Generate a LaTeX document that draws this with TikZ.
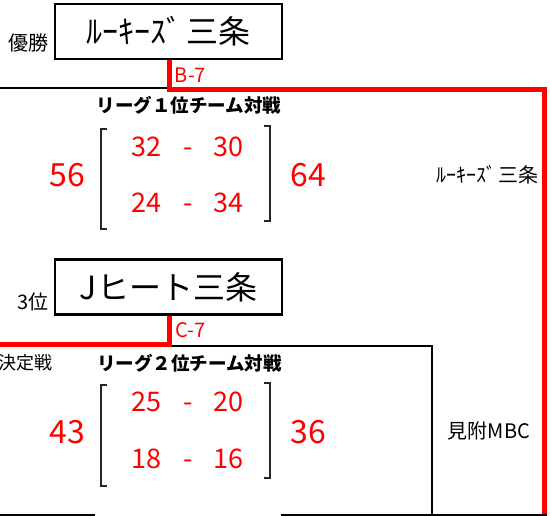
\documentclass[tikz,border=0pt]{standalone}
\usepackage{fontspec}
\setmainfont{Noto Sans CJK JP}
\begin{document}
\begin{tikzpicture}[x=1pt,y=-1pt,
  team/.style={draw=black,line width=2.5pt,minimum width=227pt,minimum height=55pt,inner sep=0pt,font=\fontsize{32}{32}\selectfont},
  lbl/.style={inner sep=0pt,font=\fontsize{20}{20}\selectfont},
  code/.style={inner sep=0pt,text=red,font=\fontsize{20}{20}\selectfont},
  head/.style={inner sep=0pt,font=\fontsize{18.5}{18.5}\selectfont\bfseries},
  big/.style={inner sep=0pt,text=red,font=\fontsize{32}{32}\selectfont},
  sc/.style={inner sep=0pt,text=red,font=\fontsize{27}{27}\selectfont},
  redline/.style={draw=red,line width=5pt,line join=miter},
  blk/.style={draw=black,line width=2pt},
  brk/.style={draw=black!85,line width=1.5pt}]
\useasboundingbox (0,0) rectangle (550,516);
% boxes
\node[team] (win) at (168.5,31.5) {ﾙｰｷｰｽﾞ\hspace{4pt}三条};
\node[team] (third) at (168.5,287) {Jヒート三条};
\node[lbl] (yusho) at (28.5,43) {優勝};
\node[lbl] (sani) at (33,302) {3位};
% lines
\coordinate (rtop) at (544.5,89.5);
\coordinate (rbot) at (544.5,516);
\coordinate (l1) at (0,88.5);
\coordinate (l1e) at (167,88.5);
\draw[blk] (l1) -- (l1e);
\draw[redline] ([xshift=1pt]win.south) |- (rtop) -- (rbot);
\coordinate (r2) at (0,344.5);
\draw[redline] ([xshift=1pt]third.south) |- (r2);
\coordinate (b2s) at (172,346);
\coordinate (b2c) at (432,346);
\coordinate (b2e) at (432,515);
\draw[blk] (b2s) -- (b2c) -- (b2e);
\coordinate (bl1) at (0,515);
\coordinate (bl2) at (95,515);
\coordinate (bl3) at (281,515);
\coordinate (bl4) at (547,515);
\draw[blk] (bl1) -- (bl2);
\draw[blk] (bl3) -- (bl4);
% codes
\node[code] (b7) at (190.5,75) {B-7};
\node[code] (c7) at (190.5,330) {C-7};
% match 1
\node[head] (h1) at (189,105) {リーグ１位チーム対戦};
\draw[brk] (107,129) -- (101,129) -- (101,229) -- (107,229);
\draw[brk] (264,126) -- (270,126) -- (270,221) -- (264,221);
\node[big] (s56) at (67.5,175) {56};
\node[big] (s64) at (308,175) {64};
\node[sc] (a1) at (146.5,147) {32};
\node[sc] (d1) at (188,147) {\vphantom{0}-};
\node[sc] (b1) at (228.5,147) {30};
\node[sc] (a2) at (146.5,203) {24};
\node[sc] (d2) at (188,203) {\vphantom{0}-};
\node[sc] (b2) at (228.5,203) {34};
\node[lbl] (w1) at (487.5,175) {ﾙｰｷｰｽﾞ\hspace{2pt}三条};
% match 2
\node[lbl,font=\fontsize{18}{18}\selectfont] (kt) at (25.5,363) {決定戦};
\node[head] (h2) at (189.5,363) {リーグ２位チーム対戦};
\draw[brk] (107,385) -- (101,385) -- (101,486) -- (107,486);
\draw[brk] (264,383) -- (270,383) -- (270,478) -- (264,478);
\node[big] (s43) at (67,432) {43};
\node[big] (s36) at (308,432) {36};
\node[sc] (a3) at (146.5,402) {25};
\node[sc] (d3) at (188,402) {\vphantom{0}-};
\node[sc] (b3) at (228.5,402) {20};
\node[sc] (a4) at (146.5,459) {18};
\node[sc] (d4) at (188,459) {\vphantom{0}-};
\node[sc] (b4) at (228.5,459) {16};
\node[lbl] (w2) at (489,431) {見附MBC};
\end{tikzpicture}
\end{document}
